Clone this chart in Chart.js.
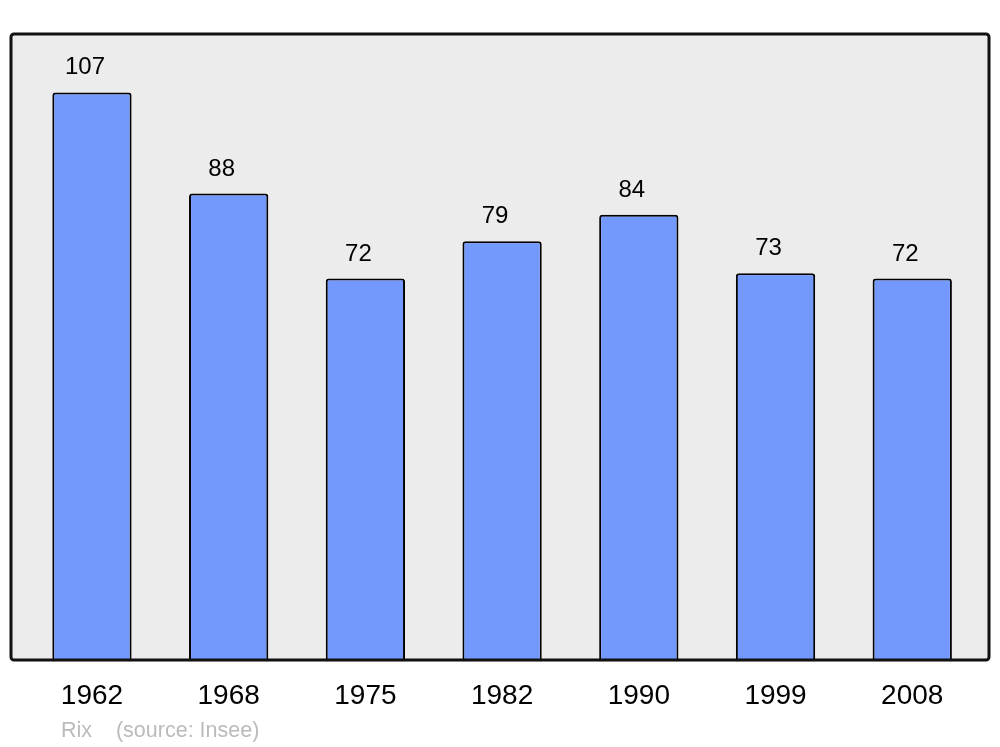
<!DOCTYPE html>
<html>
<head>
<meta charset="utf-8">
<script src="https://cdn.jsdelivr.net/npm/chart.js@4"></script>
<style>
	body { margin: 0; background: #fff; }
	canvas { display: block; }
</style>
</head>
<body>
<canvas id="pop" width="1000" height="747"></canvas>
<script>
var years = ['1962', '1968', '1975', '1982', '1990', '1999', '2008'];
var population = [107, 88, 72, 79, 84, 73, 72];
var footerText = 'Rix    (source: Insee)';

// grey frame behind the bars + value labels + footer
var decor = {
	id: 'decor',
	beforeDatasetsDraw: function(chart) {
		var ctx = chart.ctx;
		ctx.save();
		ctx.beginPath();
		ctx.roundRect(11, 34, 978, 626, 3);
		ctx.fillStyle = '#ececec';
		ctx.fill();
		ctx.restore();
	},
	afterDatasetsDraw: function(chart) {
		var ctx = chart.ctx;
		ctx.save();
		ctx.beginPath();
		ctx.roundRect(11, 34, 978, 626, 3);
		ctx.lineWidth = 3;
		ctx.strokeStyle = '#111';
		ctx.stroke();

		ctx.fillStyle = '#000';
		ctx.font = '24px "Liberation Sans", Arial, sans-serif';
		ctx.textAlign = 'center';
		ctx.textBaseline = 'alphabetic';
		chart.getDatasetMeta(0).data.forEach(function(bar, i) {
			ctx.fillText(population[i], bar.x - 7, bar.y - 18);
		});

		ctx.fillStyle = '#bbbbbb';
		ctx.font = '21.5px "Liberation Sans", Arial, sans-serif';
		ctx.textAlign = 'left';
		ctx.fillText(footerText, 61, 737);
		ctx.restore();
	}
};

window.onload = function() {
	var ctx = document.getElementById('pop').getContext('2d');
	window.myBar = new Chart(ctx, {
		type: 'bar',
		data: {
			labels: years,
			datasets: [{
				label: 'Population',
				data: population,
				backgroundColor: '#7399ff',
				borderColor: '#000',
				borderWidth: 2,
				borderRadius: 3,
				barPercentage: 0.58,
				categoryPercentage: 1
			}]
		},
		options: {
			responsive: false,
			animation: false,
			layout: {
				padding: { left: 23.6, right: 19.4, top: 34, bottom: 16 }
			},
			plugins: {
				legend: { display: false },
				tooltip: { enabled: false }
			},
			scales: {
				x: {
					grid: { display: false, drawTicks: false },
					border: { display: false },
					ticks: {
						color: '#000',
						padding: 18,
						font: { size: 28, family: '"Liberation Sans", Arial, sans-serif' }
					}
				},
				y: {
					display: false,
					min: 0,
					max: 118
				}
			}
		},
		plugins: [decor]
	});
};
</script>
</body>
</html>
